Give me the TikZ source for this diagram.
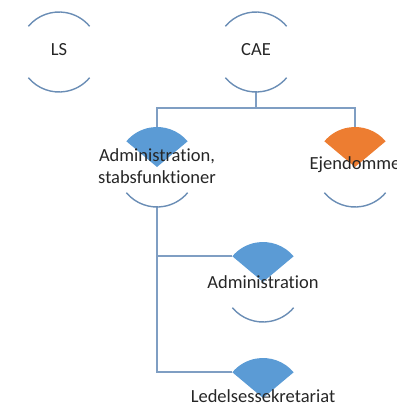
\documentclass[tikz,border=0pt]{standalone}
\usepackage{fontspec}
\setmainfont{Carlito}[Ligatures={NoCommon}]
\usetikzlibrary{calc}
\definecolor{arcblue}{HTML}{6A8DB5}
\definecolor{lineblue}{HTML}{7F9EC3}
\definecolor{wedgeblue}{HTML}{5B9BD5}
\definecolor{wedgeorange}{HTML}{ED7D31}
\def\Radius{40}

\begin{document}
\begin{tikzpicture}[x=1pt,y=1pt,
    unit/.style={circle, inner sep=0pt, outer sep=0pt, minimum size=2*\Radius pt},
    lbl/.style={align=center, inner sep=1pt, text=black!85, font=\fontsize{18.5}{22}\selectfont},
    arcline/.style={arcblue, line width=1.4pt},
    conn/.style={lineblue, line width=1.8pt}]
  \useasboundingbox (0,0) rectangle (396,-404);
  % units
  \node[unit] (LS) at (59,-52) {};
  \node[unit] (CAE) at (256,-52) {};
  \node[unit] (AS) at (157,-167) {};
  \node[unit] (EJ) at (355,-167) {};
  \node[unit] (AD) at (263,-282) {};
  \node[unit] (LE) at (263,-398) {};
  % connectors
  \draw[conn] (CAE.south) -- ++(0,-16) -| (AS.north);
  \draw[conn] (CAE.south) -- ++(0,-16) -| (EJ.north);
  \draw[conn] (AS.south) |- (AD.140);
  \draw[conn] (AS.south) |- (LE.140);
  % arcs
  \foreach \u in {LS,CAE}
    \draw[arcline] (\u.140) arc[start angle=140, end angle=40, radius=\Radius];
  \foreach \u in {LS,CAE,AS,EJ,AD,LE}
    \draw[arcline] (\u.220) arc[start angle=220, end angle=320, radius=\Radius];
  % wedges
  \foreach \u/\c in {AS/wedgeblue,EJ/wedgeorange,AD/wedgeblue,LE/wedgeblue}
    \fill[\c] (\u.center) -- (\u.40) arc[start angle=40, end angle=140, radius=\Radius] -- cycle;
  % labels
  \node[lbl] (LS-t) at ($(LS)+(0,2)$) {LS};
  \node[lbl] (CAE-t) at ($(CAE)+(0,2)$) {CAE};
  \node[lbl] (AS-t) at ($(AS)+(0,1)$) {Administration,\\stabsfunktioner};
  \node[lbl] (EJ-t) at ($(EJ)+(0,2)$) {Ejendomme};
  \node[lbl] (AD-t) at (AD) {Administration};
  \node[lbl] (LE-t) at ($(LE)+(0,2)$) {Ledelsessekretariat};
\end{tikzpicture}
\end{document}
